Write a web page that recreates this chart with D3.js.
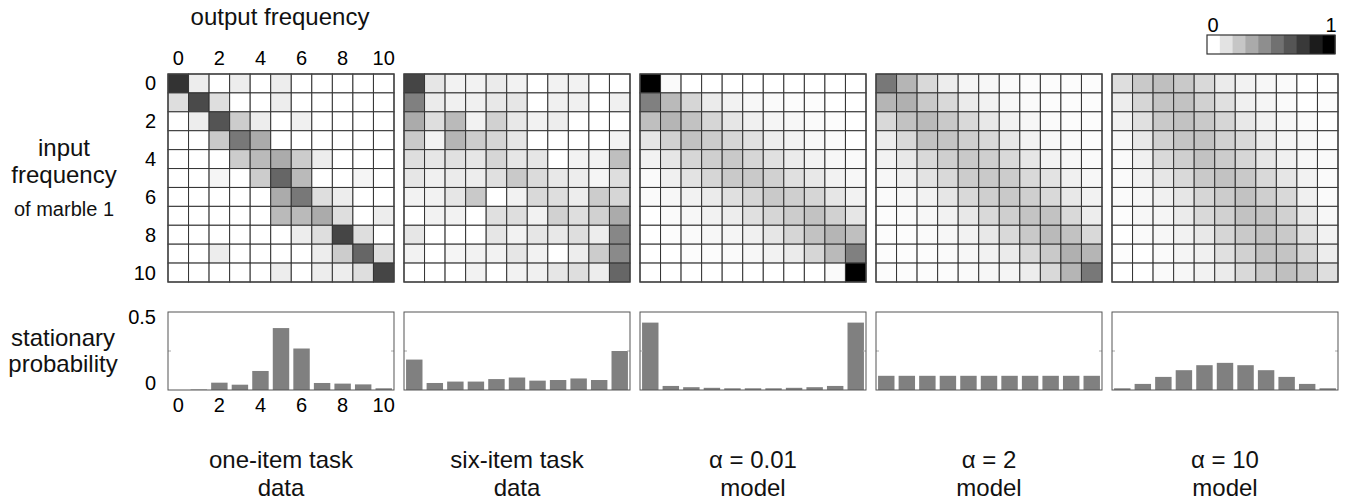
<!DOCTYPE html>
<html>
<head>
<meta charset="utf-8">
<script src="https://cdn.jsdelivr.net/npm/d3@7"></script>
<style>
  body { margin: 0; background: #fff; }
  svg { display: block; font-family: "Liberation Sans", Arial, sans-serif; }
</style>
</head>
<body>
<svg id="chart" width="1346" height="502"></svg>
<script>
// ---- data ----
const panelNames = ['oneItem', 'sixItem', 'alpha001', 'alpha2', 'alpha10'];
const panelLabels = [
  ['one-item task', 'data'],
  ['six-item task', 'data'],
  ['\u03b1 = 0.01', 'model'],
  ['\u03b1 = 2', 'model'],
  ['\u03b1 = 10', 'model']
];
const freqs = [0, 1, 2, 3, 4, 5, 6, 7, 8, 9, 10];
const tickFreqs = [0, 2, 4, 6, 8, 10];

// transition matrices (row = input frequency, col = output frequency)
const oneItemMatrix = [
  [0.80, 0.07, 0, 0.07, 0, 0.07, 0, 0, 0, 0, 0],
  [0.13, 0.71, 0.13, 0, 0, 0.07, 0, 0, 0, 0, 0],
  [0, 0.07, 0.67, 0.20, 0.07, 0, 0.06, 0, 0, 0, 0],
  [0, 0, 0.21, 0.53, 0.33, 0, 0, 0, 0, 0, 0],
  [0, 0, 0, 0.20, 0.27, 0.33, 0.20, 0.07, 0, 0, 0],
  [0, 0, 0.04, 0, 0.20, 0.60, 0.27, 0, 0, 0.04, 0],
  [0, 0, 0, 0, 0, 0.33, 0.53, 0.13, 0.07, 0, 0],
  [0, 0, 0, 0, 0, 0.27, 0.27, 0.33, 0.13, 0, 0.07],
  [0, 0, 0, 0, 0, 0, 0.07, 0.13, 0.73, 0.13, 0],
  [0, 0, 0.07, 0, 0, 0, 0, 0.07, 0.20, 0.60, 0.13],
  [0, 0, 0, 0, 0, 0.07, 0, 0.07, 0.07, 0.13, 0.73]
];
const sixItemMatrix = [
  [0.73, 0.10, 0.05, 0.05, 0.08, 0.05, 0, 0.05, 0.05, 0, 0],
  [0.50, 0.08, 0.06, 0.06, 0.09, 0.10, 0, 0.06, 0.06, 0, 0.06],
  [0.33, 0.13, 0.27, 0.05, 0.18, 0.09, 0.05, 0.07, 0, 0, 0],
  [0.21, 0.05, 0.29, 0.20, 0.16, 0.10, 0, 0, 0, 0, 0.05],
  [0.13, 0.10, 0.12, 0.10, 0.16, 0.10, 0.10, 0, 0.05, 0.05, 0.25],
  [0.10, 0.06, 0.08, 0.07, 0.12, 0.21, 0.14, 0.09, 0.07, 0.04, 0.13],
  [0.05, 0.05, 0.10, 0.21, 0, 0.05, 0.15, 0.13, 0.07, 0.20, 0.16],
  [0, 0.05, 0.05, 0, 0.12, 0.13, 0.05, 0.18, 0.13, 0.18, 0.33],
  [0.10, 0, 0, 0, 0.10, 0.05, 0.10, 0.09, 0.13, 0.07, 0.47],
  [0.05, 0, 0.04, 0.05, 0.05, 0.10, 0.05, 0, 0.07, 0.20, 0.46],
  [0, 0, 0, 0.05, 0, 0.05, 0.06, 0.10, 0.13, 0.07, 0.60]
];
const alpha001Matrix = [
  [1.00, 0.02, 0, 0, 0, 0, 0, 0, 0, 0, 0],
  [0.50, 0.27, 0.16, 0.08, 0.05, 0.03, 0.02, 0.01, 0.01, 0, 0],
  [0.25, 0.29, 0.24, 0.16, 0.10, 0.06, 0.04, 0.03, 0.02, 0.01, 0],
  [0.10, 0.18, 0.24, 0.20, 0.16, 0.12, 0.07, 0.05, 0.03, 0.02, 0],
  [0.05, 0.10, 0.16, 0.19, 0.21, 0.16, 0.12, 0.08, 0.05, 0.03, 0.02],
  [0.02, 0.06, 0.11, 0.16, 0.21, 0.21, 0.18, 0.12, 0.09, 0.05, 0.03],
  [0.02, 0.03, 0.05, 0.08, 0.12, 0.16, 0.21, 0.19, 0.16, 0.10, 0.05],
  [0, 0.02, 0.03, 0.05, 0.07, 0.12, 0.16, 0.20, 0.24, 0.18, 0.10],
  [0, 0.01, 0.02, 0.03, 0.04, 0.06, 0.10, 0.16, 0.24, 0.29, 0.25],
  [0, 0, 0.01, 0.01, 0.02, 0.03, 0.05, 0.08, 0.16, 0.27, 0.50],
  [0, 0, 0, 0, 0, 0, 0, 0, 0, 0.02, 1.00]
];
const alpha2Matrix = [
  [0.53, 0.29, 0.15, 0.07, 0.04, 0.03, 0.02, 0.01, 0.01, 0.01, 0.01],
  [0.29, 0.31, 0.21, 0.15, 0.08, 0.05, 0.03, 0.02, 0.01, 0.01, 0.01],
  [0.15, 0.24, 0.27, 0.21, 0.15, 0.09, 0.05, 0.03, 0.02, 0.01, 0.01],
  [0.07, 0.15, 0.24, 0.23, 0.19, 0.15, 0.09, 0.05, 0.03, 0.02, 0.01],
  [0.05, 0.09, 0.15, 0.19, 0.21, 0.19, 0.15, 0.10, 0.05, 0.03, 0.02],
  [0.03, 0.06, 0.11, 0.15, 0.20, 0.21, 0.20, 0.15, 0.11, 0.06, 0.03],
  [0.02, 0.03, 0.05, 0.10, 0.15, 0.19, 0.21, 0.19, 0.15, 0.09, 0.05],
  [0.01, 0.02, 0.03, 0.05, 0.09, 0.15, 0.19, 0.23, 0.24, 0.15, 0.07],
  [0.01, 0.01, 0.02, 0.03, 0.05, 0.09, 0.15, 0.21, 0.27, 0.24, 0.15],
  [0.01, 0.01, 0.01, 0.02, 0.03, 0.05, 0.08, 0.15, 0.21, 0.31, 0.29],
  [0.01, 0.01, 0.01, 0.01, 0.02, 0.03, 0.04, 0.07, 0.15, 0.29, 0.53]
];
const alpha10Matrix = [
  [0.13, 0.21, 0.25, 0.21, 0.15, 0.08, 0.05, 0.03, 0.02, 0, 0],
  [0.07, 0.16, 0.23, 0.24, 0.18, 0.12, 0.06, 0.04, 0.02, 0, 0.01],
  [0.05, 0.12, 0.21, 0.24, 0.21, 0.16, 0.09, 0.05, 0.03, 0.02, 0],
  [0.03, 0.09, 0.18, 0.23, 0.24, 0.18, 0.15, 0.08, 0.04, 0.03, 0.01],
  [0.02, 0.06, 0.15, 0.19, 0.24, 0.20, 0.16, 0.10, 0.06, 0.03, 0.02],
  [0.02, 0.05, 0.10, 0.15, 0.21, 0.24, 0.21, 0.15, 0.10, 0.05, 0.02],
  [0.02, 0.03, 0.06, 0.10, 0.16, 0.20, 0.24, 0.19, 0.15, 0.06, 0.02],
  [0.01, 0.03, 0.04, 0.08, 0.15, 0.18, 0.24, 0.23, 0.18, 0.09, 0.03],
  [0, 0.02, 0.03, 0.05, 0.09, 0.16, 0.21, 0.24, 0.21, 0.12, 0.05],
  [0.01, 0, 0.02, 0.04, 0.06, 0.12, 0.18, 0.24, 0.23, 0.16, 0.07],
  [0, 0, 0.02, 0.03, 0.05, 0.08, 0.15, 0.21, 0.25, 0.21, 0.13]
];

// stationary distributions
const oneItemStationary  = [0.000, 0.003, 0.047, 0.034, 0.122, 0.397, 0.266, 0.045, 0.041, 0.036, 0.011];
const sixItemStationary  = [0.195, 0.045, 0.054, 0.054, 0.070, 0.080, 0.060, 0.064, 0.074, 0.064, 0.250];
const alpha001Stationary = [0.432, 0.026, 0.018, 0.014, 0.011, 0.011, 0.011, 0.014, 0.018, 0.026, 0.432];
const alpha2Stationary   = [0.091, 0.091, 0.091, 0.091, 0.091, 0.091, 0.091, 0.091, 0.091, 0.091, 0.091];
const alpha10Stationary  = [0.011, 0.039, 0.084, 0.127, 0.159, 0.174, 0.159, 0.127, 0.084, 0.039, 0.011];

const matrices = [oneItemMatrix, sixItemMatrix, alpha001Matrix, alpha2Matrix, alpha10Matrix];
const stationaries = [oneItemStationary, sixItemStationary, alpha001Stationary, alpha2Stationary, alpha10Stationary];

const colorbarSteps = d3.range(10);

// ---- layout ----
const svg = d3.select('#chart');
const heatTop = 74, heatH = 208;
const barTop = 312, barH = 78;

const panelX = d3.scaleBand().domain(panelNames).range([168, 1338]).paddingInner(0.0424);
const panelW = panelX.bandwidth();

const cellX = d3.scaleBand().domain(freqs).range([0, panelW]);
const cellY = d3.scaleBand().domain(freqs).range([0, heatH]);
const barX = d3.scaleBand().domain(freqs).range([0, panelW]).paddingInner(0.2).paddingOuter(0.1);
const barY = d3.scaleLinear().domain([0, 0.5]).range([barH, 0]);
const gray = d3.scaleLinear().domain([0, 1]).range(['#ffffff', '#000000']).clamp(true);

const tickFont = 20;

panelNames.forEach((name, i) => {
  const x0 = panelX(name);

  // heatmap
  const hm = svg.append('g').attr('transform', `translate(${x0},${heatTop})`);
  const cells = [];
  matrices[i].forEach((row, r) => row.forEach((v, c) => cells.push({ r, c, v })));
  hm.selectAll('rect.cell')
    .data(cells)
    .join('rect')
    .attr('class', 'cell')
    .attr('x', d => cellX(d.c))
    .attr('y', d => cellY(d.r))
    .attr('width', cellX.bandwidth())
    .attr('height', cellY.bandwidth())
    .attr('fill', d => gray(d.v))
    .attr('stroke', '#333')
    .attr('stroke-width', 1);
  hm.append('rect')
    .attr('width', panelW).attr('height', heatH)
    .attr('fill', 'none').attr('stroke', '#444').attr('stroke-width', 1.3);

  // bar chart
  const bc = svg.append('g').attr('transform', `translate(${x0},${barTop})`);
  bc.selectAll('rect.bar')
    .data(stationaries[i])
    .join('rect')
    .attr('class', 'bar')
    .attr('x', (d, k) => barX(k))
    .attr('y', d => barY(d))
    .attr('width', barX.bandwidth())
    .attr('height', d => barH - barY(d))
    .attr('fill', '#808080');
  // small inner ticks at 0.25
  [0, panelW].forEach(xx => {
    bc.append('line')
      .attr('x1', xx).attr('x2', xx === 0 ? 3 : panelW - 3)
      .attr('y1', barY(0.25)).attr('y2', barY(0.25))
      .attr('stroke', '#aaa').attr('stroke-width', 1);
  });
  bc.append('rect')
    .attr('width', panelW).attr('height', barH)
    .attr('fill', 'none').attr('stroke', '#555').attr('stroke-width', 1);

  // bottom labels
  const cx = x0 + panelW / 2;
  panelLabels[i].forEach((t, k) => {
    svg.append('text')
      .attr('x', cx).attr('y', 468 + k * 28)
      .attr('text-anchor', 'middle')
      .attr('font-size', 24)
      .attr('fill', '#111')
      .text(t);
  });

  // axes on the first panel only
  if (i === 0) {
    svg.append('g')
      .selectAll('text')
      .data(tickFreqs)
      .join('text')
      .attr('x', d => x0 + cellX(d) + cellX.bandwidth() / 2)
      .attr('y', 65)
      .attr('text-anchor', 'middle')
      .attr('font-size', tickFont)
      .text(d => d);
    svg.append('g')
      .selectAll('text')
      .data(tickFreqs)
      .join('text')
      .attr('x', 156)
      .attr('y', d => heatTop + cellY(d) + cellY.bandwidth() / 2 + 7)
      .attr('text-anchor', 'end')
      .attr('font-size', tickFont)
      .text(d => d);
    svg.append('g')
      .selectAll('text')
      .data(tickFreqs)
      .join('text')
      .attr('x', d => x0 + barX(d) + barX.bandwidth() / 2)
      .attr('y', 412)
      .attr('text-anchor', 'middle')
      .attr('font-size', tickFont)
      .text(d => d);
    svg.append('g')
      .selectAll('text')
      .data([0, 0.5])
      .join('text')
      .attr('x', 156)
      .attr('y', d => barTop + barY(d) + (d === 0 ? 0 : 12))
      .attr('text-anchor', 'end')
      .attr('font-size', tickFont)
      .text(d => d);
  }
});

// axis titles
const title = (txt, x, y, size) => svg.append('text')
  .attr('x', x).attr('y', y).attr('text-anchor', 'middle')
  .attr('font-size', size).attr('fill', '#111').text(txt);
title('output frequency', 280, 25, 24);
title('input', 64, 156, 24);
title('frequency', 64, 183, 24);
title('of marble 1', 64, 216, 20);
title('stationary', 63, 346, 24);
title('probability', 63, 372, 24);

// colorbar
const cbX = d3.scaleBand().domain(colorbarSteps).range([1207, 1335]);
const cbColor = d3.scaleLinear().domain([0, 9]).range(['#ffffff', '#000000']);
svg.append('g')
  .selectAll('rect')
  .data(colorbarSteps)
  .join('rect')
  .attr('x', d => cbX(d))
  .attr('y', 35)
  .attr('width', cbX.bandwidth() + 0.5)
  .attr('height', 19)
  .attr('fill', d => cbColor(d));
svg.append('rect')
  .attr('x', 1207).attr('y', 35).attr('width', 128).attr('height', 19)
  .attr('fill', 'none').attr('stroke', '#333').attr('stroke-width', 1.2);
svg.append('text').attr('x', 1213).attr('y', 32).attr('text-anchor', 'middle')
  .attr('font-size', tickFont).text('0');
svg.append('text').attr('x', 1331).attr('y', 32).attr('text-anchor', 'middle')
  .attr('font-size', tickFont).text('1');
</script>
</body>
</html>
